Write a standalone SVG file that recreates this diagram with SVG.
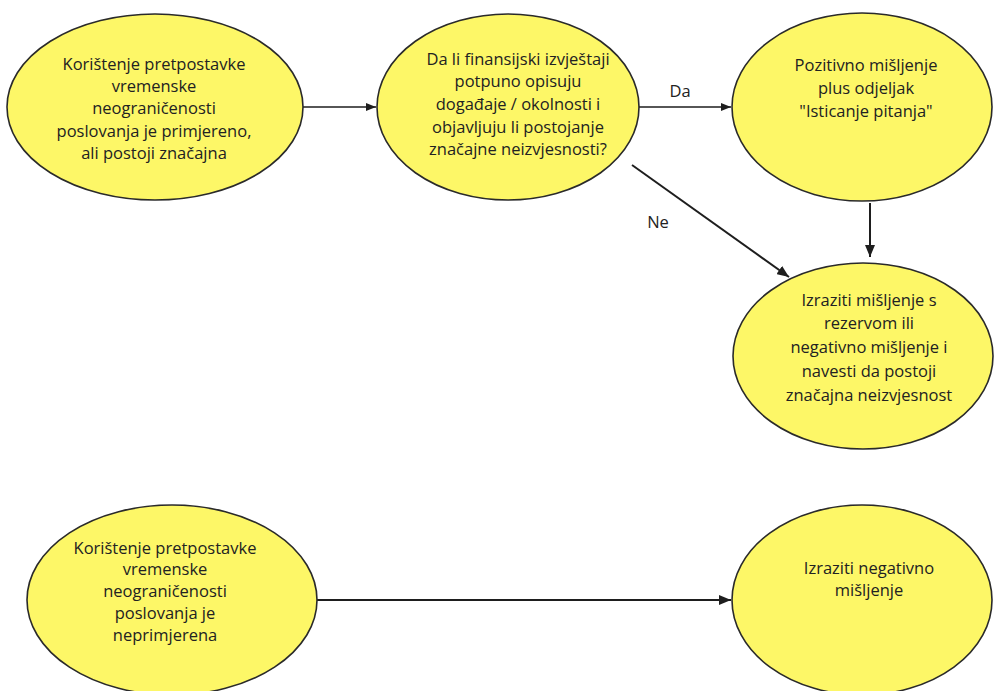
<svg xmlns="http://www.w3.org/2000/svg" width="994" height="691" viewBox="0 0 994 691">
<style>
.n{fill:#FDF767;stroke:#2a2a2a;stroke-width:1.6}
.t{font-family:"Open Sans","Liberation Sans",sans-serif;font-size:16.5px;font-weight:500;fill:#222;text-anchor:middle}
.c{stroke:#1e1e1e;stroke-width:1.3;fill:none;marker-end:url(#ah)}
.c2{stroke:#1e1e1e;stroke-width:2;fill:none;marker-end:url(#ah2)}
</style>
<defs>
<marker id="ah" markerWidth="10" markerHeight="8" refX="10" refY="4" orient="auto" markerUnits="userSpaceOnUse"><path d="M0,0 L10,4 L0,8 Z" fill="#1e1e1e"/></marker>
<marker id="ah2" markerWidth="12" markerHeight="10" refX="12" refY="5" orient="auto" markerUnits="userSpaceOnUse"><path d="M0,0 L12,5 L0,10 Z" fill="#1e1e1e"/></marker>
</defs>
<rect width="994" height="691" fill="#fff"/>
<g id="connectors">
<line class="c" x1="302" y1="107" x2="376" y2="107"/>
<line class="c" x1="638" y1="107" x2="731" y2="107"/>
<line class="c2" x1="632" y1="165" x2="789" y2="277"/>
<line class="c2" x1="870" y1="203" x2="870" y2="257"/>
<line class="c2" x1="317" y1="600" x2="731" y2="600"/>
<text class="t" x="680" y="97">Da</text>
<text class="t" x="658" y="228">Ne</text>
</g>
<g id="n1">
<ellipse class="n" cx="155" cy="107" rx="148" ry="93"/>
<text class="t" x="154" y="70">Korištenje pretpostavke</text>
<text class="t" x="154" y="92">vremenske</text>
<text class="t" x="154" y="114">neograničenosti</text>
<text class="t" x="154" y="137">poslovanja je primjereno,</text>
<text class="t" x="154" y="159">ali postoji značajna</text>
</g>
<g id="n2">
<ellipse class="n" cx="508" cy="107" rx="131" ry="93"/>
<text class="t" x="518" y="65">Da li finansijski izvještaji</text>
<text class="t" x="518" y="87">potpuno opisuju</text>
<text class="t" x="518" y="110">događaje / okolnosti i</text>
<text class="t" x="518" y="133">objavljuju li postojanje</text>
<text class="t" x="518" y="155">značajne neizvjesnosti?</text>
</g>
<g id="n3">
<ellipse class="n" cx="862" cy="107" rx="130" ry="94"/>
<text class="t" x="866" y="71">Pozitivno mišljenje</text>
<text class="t" x="866" y="94">plus odjeljak</text>
<text class="t" x="866" y="117">"Isticanje pitanja"</text>
</g>
<g id="n4">
<ellipse class="n" cx="863" cy="356" rx="130" ry="93"/>
<text class="t" x="869" y="306">Izraziti mišljenje s</text>
<text class="t" x="869" y="329">rezervom ili</text>
<text class="t" x="869" y="353">negativno mišljenje i</text>
<text class="t" x="869" y="377">navesti da postoji</text>
<text class="t" x="869" y="401">značajna neizvjesnost</text>
</g>
<g id="n5">
<ellipse class="n" cx="172" cy="600" rx="145" ry="95"/>
<text class="t" x="165" y="554">Korištenje pretpostavke</text>
<text class="t" x="165" y="575">vremenske</text>
<text class="t" x="165" y="597">neograničenosti</text>
<text class="t" x="165" y="619">poslovanja je</text>
<text class="t" x="165" y="641">neprimjerena</text>
</g>
<g id="n6">
<ellipse class="n" cx="862" cy="600" rx="130" ry="95"/>
<text class="t" x="869" y="574">Izraziti negativno</text>
<text class="t" x="869" y="596">mišljenje</text>
</g>
</svg>
